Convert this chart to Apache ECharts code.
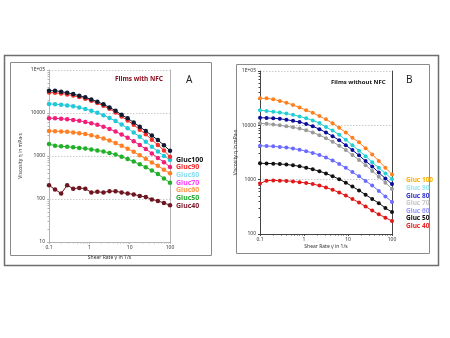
<!DOCTYPE html>
<html>
<head>
<meta charset="utf-8">
<script src="https://cdn.jsdelivr.net/npm/echarts@6.0.0/dist/echarts.min.js"></script>
<style>
  html, body { margin: 0; padding: 0; background: #fff; }
  #main { width: 450px; height: 338px; }
</style>
</head>
<body>
<div id="main"></div>
<script>
// shear rate points (1/s), log spaced, same for both panels
var shearRate = [0.1, 0.141, 0.2, 0.282, 0.398, 0.562, 0.794, 1.12, 1.58, 2.24, 3.16,
  4.47, 6.31, 8.91, 12.6, 17.8, 25.1, 35.5, 50.1, 70.8, 100];

// panel A - films with NFC (viscosity mPa.s)
var namesA = ['Gluc100', 'Gluc90', 'Gluc80', 'Gluc70', 'Gluc60', 'Gluc50', 'Gluc40'];
var gluc100A = [33000, 33000, 31300, 29600, 27600, 25200, 23100, 20700, 18300, 15900, 13500, 11300, 9100, 7500, 6040, 4790, 3800, 3000, 2340, 1780, 1320];
var gluc90A = [30000, 29500, 28500, 27000, 25500, 23500, 21500, 19300, 17000, 14700, 12500, 10300, 8300, 6700, 5300, 4100, 3200, 2400, 1800, 1350, 960];
var gluc80A = [16300, 16000, 15600, 15000, 14300, 13400, 12400, 11300, 10100, 8900, 7700, 6500, 5400, 4400, 3500, 2800, 2150, 1650, 1270, 1000, 810];
var gluc70A = [7600, 7500, 7350, 7150, 6900, 6600, 6200, 5800, 5300, 4800, 4250, 3700, 3150, 2650, 2200, 1800, 1450, 1150, 900, 720, 555];
var gluc60A = [3800, 3780, 3720, 3640, 3540, 3400, 3230, 3030, 2800, 2550, 2280, 2000, 1730, 1480, 1250, 1040, 860, 710, 590, 480, 395];
var gluc50A = [1900, 1720, 1680, 1640, 1590, 1540, 1490, 1420, 1350, 1270, 1180, 1080, 960, 850, 740, 640, 550, 460, 380, 300, 240];
var gluc40A = [209, 166, 134, 209, 174, 181, 174, 142, 147, 142, 152, 152, 142, 134, 128, 118, 112, 98, 90, 81, 72];
var colorsA = ['#101a30', '#f4302a', '#22c8d8', '#f0207a', '#ff7f24', '#22b02a', '#6e1620'];
var legendColorsA = ['#111111', '#f42a2a', '#88ddf0', '#ff40ff', '#ff9a50', '#22aa33', '#7a1a2a'];

// panel B - films without NFC
var namesB = ['Gluc 100', 'Gluc 90', 'Gluc 80', 'Gluc 70', 'Gluc 60', 'Gluc 50', 'Gluc 40'];
var gluc100B = [31400, 31400, 30100, 28100, 26100, 23700, 21400, 19000, 17000, 14800, 12900, 10900, 9000, 7400, 5900, 4860, 3770, 2920, 2200, 1660, 1250];
var gluc90B = [19000, 18300, 17800, 17200, 16500, 15600, 14600, 13500, 12300, 11000, 9300, 8000, 6700, 5400, 4300, 3400, 2700, 2100, 1650, 1300, 1030];
var gluc80B = [13800, 13700, 13500, 13200, 12700, 12100, 11500, 10600, 9600, 8500, 7400, 6300, 5300, 4300, 3500, 2800, 2200, 1750, 1350, 1050, 830];
var gluc70B = [10900, 10700, 10400, 10000, 9600, 9200, 8700, 8100, 7400, 6600, 5800, 5000, 4200, 3500, 2850, 2300, 1850, 1450, 1130, 880, 675];
var gluc60B = [4200, 4150, 4100, 4000, 3900, 3750, 3550, 3350, 3100, 2850, 2550, 2250, 1950, 1650, 1380, 1150, 950, 780, 620, 490, 390];
var gluc50B = [2000, 1990, 1970, 1940, 1900, 1840, 1760, 1660, 1550, 1430, 1300, 1160, 1020, 880, 750, 630, 530, 440, 370, 300, 253];
var gluc40B = [850, 960, 970, 960, 950, 930, 900, 870, 830, 780, 720, 650, 580, 510, 440, 380, 320, 270, 230, 200, 173];
var colorsB = ['#ff7f1e', '#22cfd2', '#0c0c9a', '#9a9a9a', '#6a6aff', '#111111', '#e01818'];
var legendColorsB = ['#ffb000', '#99e6f0', '#3333cc', '#c8c8c8', '#9999ff', '#111111', '#ee2222'];

var yTicksA = ['10', '100', '1000', '10000', '1E+05'];
var yTicksB = ['100', '1000', '10000', '1E+05'];

var dataA = [gluc100A, gluc90A, gluc80A, gluc70A, gluc60A, gluc50A, gluc40A];
var dataB = [gluc100B, gluc90B, gluc80B, gluc70B, gluc60B, gluc50B, gluc40B];

function pairs(arr) {
  return arr.map(function (v, i) { return [shearRate[i], v]; });
}

function yLabel(v) {
  return v >= 100000 ? '1E+05' : String(Math.round(v));
}

var font = 'Noto Sans';
var myChart = echarts.init(document.getElementById('main'), null, { renderer: 'canvas' });

function xAxisCfg(grid, lineColor, nameGap) {
  return {
    type: 'log', logBase: 10, min: 0.1, max: 100, gridIndex: grid,
    name: 'Shear Rate \u03B3\u0307 in 1/s', nameLocation: 'middle', nameGap: nameGap,
    nameTextStyle: { fontSize: 5, color: '#333', fontFamily: font },
    axisLine: { lineStyle: { color: lineColor, width: 1 } },
    axisTick: { show: true, length: 2, lineStyle: { color: lineColor } },
    minorTick: { show: true, splitNumber: 9, length: 1.5, lineStyle: { color: lineColor } },
    axisLabel: { fontSize: 5, color: '#333', margin: 3, fontFamily: font,
      formatter: function (v) { return String(v); } },
    splitLine: { show: false }
  };
}

function yAxisCfg(grid, min, lineColor, nameGap) {
  return {
    type: 'log', logBase: 10, min: min, max: 100000, gridIndex: grid,
    name: 'Viscosity \u03B7 in mPa\u00B7s', nameLocation: 'middle', nameGap: nameGap, nameRotate: 90,
    nameTextStyle: { fontSize: 5, color: '#333', fontFamily: font },
    axisLine: { lineStyle: { color: lineColor, width: 1 } },
    axisTick: { show: true, length: 2, lineStyle: { color: lineColor } },
    minorTick: { show: true, splitNumber: 9, length: 1.5, lineStyle: { color: lineColor } },
    axisLabel: { fontSize: 5, color: '#333', margin: 4, fontFamily: font, formatter: yLabel },
    splitLine: { show: true, lineStyle: { color: '#bdbdbd', type: [1.5, 1.5], width: 0.8 } }
  };
}

function rightAxis(grid, min, lineColor) {
  return {
    type: 'log', logBase: 10, min: min, max: 100000, gridIndex: grid, position: 'right',
    axisLine: { show: true, onZero: false, lineStyle: { color: lineColor, width: 1 } },
    axisTick: { show: false }, axisLabel: { show: false }, splitLine: { show: false }
  };
}

var series = [];
namesA.forEach(function (n, i) {
  series.push({
    name: n, type: 'line', xAxisIndex: 0, yAxisIndex: 0, data: pairs(dataA[i]),
    symbol: 'circle', symbolSize: 4.5, showSymbol: true,
    lineStyle: { color: colorsA[i], width: 1 }, itemStyle: { color: colorsA[i] },
    z: 10 - i
  });
});
namesB.forEach(function (n, i) {
  series.push({
    name: n, type: 'line', xAxisIndex: 1, yAxisIndex: 2, data: pairs(dataB[i]),
    symbol: 'circle', symbolSize: 4, showSymbol: true,
    lineStyle: { color: colorsB[i], width: 1 }, itemStyle: { color: colorsB[i] },
    z: 10 - i
  });
});

// legend texts (text only, coloured)
var legendGraphics = [];
namesA.forEach(function (n, i) {
  legendGraphics.push({ type: 'text', left: 176, top: 156 + i * 7.7,
    style: { text: n, fill: legendColorsA[i], font: 'bold 7px "Noto Sans"' } });
});
namesB.forEach(function (n, i) {
  legendGraphics.push({ type: 'text', left: 406, top: 177 + i * 7.6,
    style: { text: n, fill: legendColorsB[i], font: 'bold 6.5px "Noto Sans"' } });
});

var option = {
  animation: false,
  backgroundColor: '#ffffff',
  grid: [
    { left: 49, top: 70, width: 121, height: 172 },
    { left: 260, top: 71, width: 132, height: 163 }
  ],
  xAxis: [xAxisCfg(0, '#b4b4b4', 10), xAxisCfg(1, '#444444', 10)],
  yAxis: [
    yAxisCfg(0, 10, '#b4b4b4', 26), rightAxis(0, 10, '#b4b4b4'),
    yAxisCfg(1, 100, '#444444', 19), rightAxis(1, 100, '#444444')
  ],
  series: series,
  graphic: [
    { type: 'rect', shape: { x: 4.5, y: 55.5, width: 434, height: 210 },
      style: { fill: 'none', stroke: '#6e6e6e', lineWidth: 1.5 }, z: -1 },
    { type: 'rect', shape: { x: 10.5, y: 62.5, width: 201, height: 193 },
      style: { fill: 'none', stroke: '#8a8a8a', lineWidth: 1 }, z: -1 },
    { type: 'rect', shape: { x: 236.5, y: 64.5, width: 193, height: 189 },
      style: { fill: 'none', stroke: '#8a8a8a', lineWidth: 1 }, z: -1 },
    { type: 'text', left: 115, top: 76, style: { text: 'Films with NFC', fill: '#8a1020', font: 'bold 6.5px "Noto Sans"' } },
    { type: 'text', left: 186, top: 75, style: { text: 'A', fill: '#222', font: '10px "Noto Sans"' } },
    { type: 'text', left: 331, top: 79, style: { text: 'Films without NFC', fill: '#111', font: 'bold 6px "Noto Sans"' } },
    { type: 'text', left: 406, top: 75, style: { text: 'B', fill: '#222', font: '10px "Noto Sans"' } }
  ].concat(legendGraphics)
};

myChart.setOption(option);
</script>
</body>
</html>
